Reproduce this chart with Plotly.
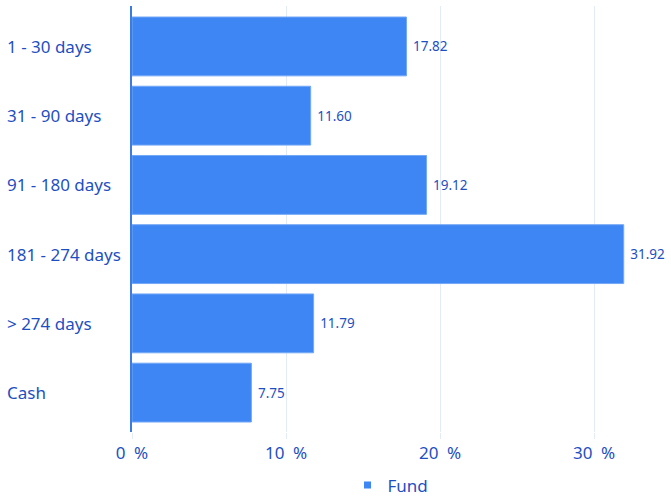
import plotly.graph_objects as go

categories = ["1 - 30 days", "31 - 90 days", "91 - 180 days", "181 - 274 days", "> 274 days", "Cash"]
fund_values = [17.82, 11.60, 19.12, 31.92, 11.79, 7.75]
x_tick_values = [0, 10, 20, 30]
x_tick_labels = ["0\u2002%", "10\u2002%", "20\u2002%", "30\u2002%"]
series_name = "Fund"

TEXT = "#1e4fc2"
BAR = "#3d86f3"
FONT = "Noto Sans, Open Sans, sans-serif"

fig = go.Figure()
fig.add_trace(go.Bar(
    name=series_name,
    y=categories,
    x=fund_values,
    orientation="h",
    marker=dict(color=BAR, line=dict(color="#74a8f6", width=1)),
    text=[f"\u00a0{v:.2f}" for v in fund_values],
    textposition="outside",
    textfont=dict(color=TEXT, size=13.5, family=FONT),
    cliponaxis=False,
    showlegend=False,
))
# legend entry (small square marker)
fig.add_trace(go.Scatter(
    name=series_name, x=[None], y=[None], mode="markers",
    marker=dict(symbol="square", size=7, color=BAR),
    showlegend=True,
))

annotations = [
    dict(x=-0.238, xref="paper", y=c, yref="y", text=c, showarrow=False,
         xanchor="left", yanchor="middle", font=dict(color=TEXT, size=17, family=FONT))
    for c in categories
]

fig.update_layout(
    width=671, height=499,
    margin=dict(l=132, r=6, t=6, b=67, autoexpand=False),
    paper_bgcolor="white", plot_bgcolor="white",
    bargap=0.15,
    font=dict(family=FONT, color=TEXT),
    xaxis=dict(
        range=[0, 34.6], tickvals=x_tick_values, ticktext=x_tick_labels,
        showgrid=True, gridcolor="#e3ebf6", gridwidth=1, zeroline=False,
        ticks="outside", ticklen=6, tickcolor="#e3ebf6",
        tickfont=dict(size=17, color=TEXT, family=FONT), showline=False,
    ),
    yaxis=dict(
        categoryorder="array", categoryarray=categories,
        range=[5.569, -0.584], showticklabels=False, showgrid=False,
        showline=True, linecolor="#3d7be0", linewidth=1.5, zeroline=False, ticks="",
    ),
    legend=dict(orientation="h", xref="container", x=0.582, xanchor="center",
                yref="container", y=0.027, yanchor="middle",
                font=dict(size=17, color=TEXT, family=FONT), itemwidth=30),
    annotations=annotations,
)

fig.write_html("out.html", config={"displayModeBar": False},
               post_script="document.body.style.margin='0';")
